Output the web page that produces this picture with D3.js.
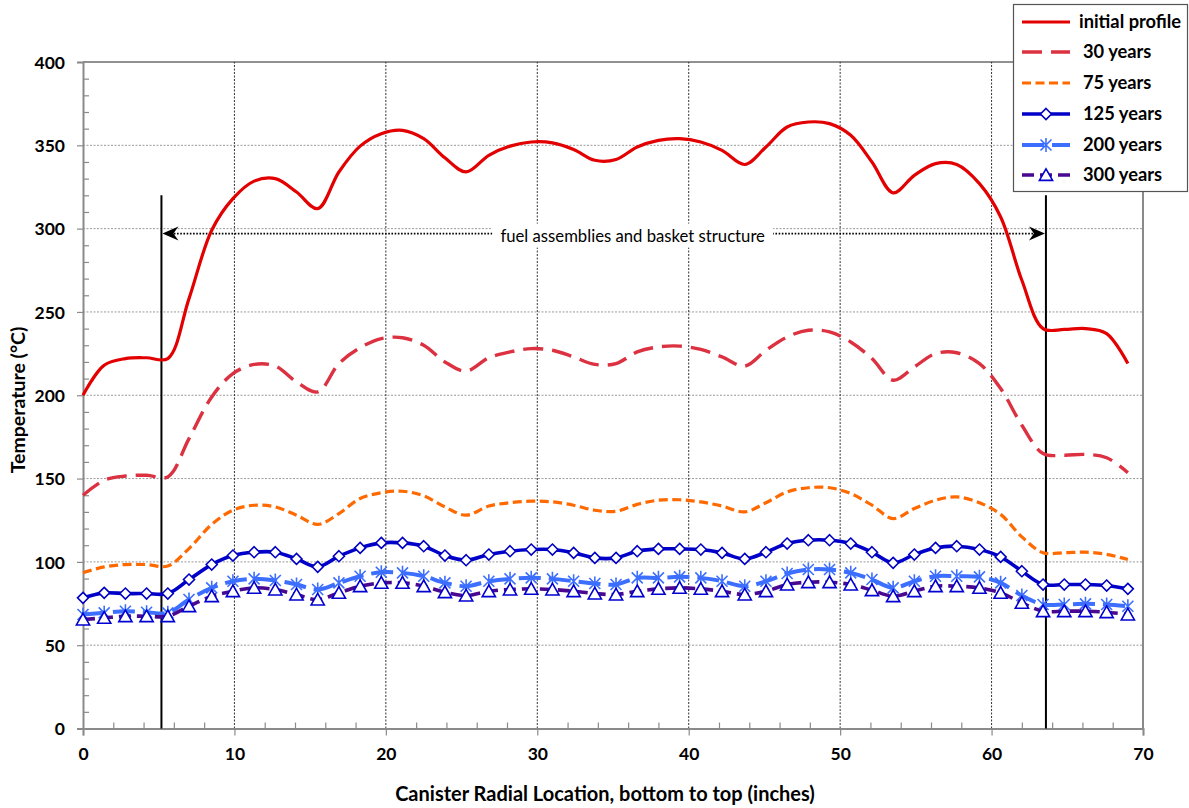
<!DOCTYPE html>
<html>
<head>
<meta charset="utf-8">
<script src="https://cdn.jsdelivr.net/npm/d3@7"></script>
<style>
  html, body { margin: 0; padding: 0; background: #fff; }
  svg { display: block; }
  text { font-family: Lato, "Open Sans", "Noto Sans", sans-serif; }
</style>
</head>
<body>
<svg id="chart" width="1189" height="808"></svg>
<script>
// ---------- DATA ----------
const xPositions = [0,1.4,2.8,4.2,5.6,7.0,8.5,9.9,11.3,12.7,14.1,15.5,16.9,18.3,19.7,21.1,22.5,23.9,25.3,26.8,
  28.2,29.6,31.0,32.4,33.8,35.2,36.6,38.0,39.4,40.8,42.2,43.7,45.1,46.5,47.9,49.3,50.7,52.1,53.5,54.9,
  56.3,57.7,59.2,60.6,62.0,63.4,64.8,66.2,67.6,69.0];

const initialProfile = [200,218,222,222.5,222,258,299,318,328.5,330,322,312,334,349.5,357,359,354,342.5,334,344,
  349.5,352,351.5,347.5,341,341.5,349,353,354,352,347,338.5,349,361,364,363,356,340,321.5,332,
  339,338.5,327,307,269,240,239.5,240,237,219];
const years30 = [140,149,151.5,152,151,174,199,213,218.5,217.5,208,202,219,228.5,234,234.5,230,220,214.5,222.5,
  226,228,227,223,218.5,219,226,229,229.5,227.5,223,217.5,227,235,239,238,232,222,209,217,
  225,225.5,219,204,182,165,164,164.5,162.5,153.5];
const years75 = [93.5,97,98.4,98.4,97.5,108,122.5,131,134,133,128,122.5,129,138,141.5,142.4,139.6,133,128,133.5,
  135.5,136.4,136,134,131,130.4,134.5,137,137.3,136,133.5,130,135.5,142,144.5,144.5,141,134,126,132,
  137,139,135.5,128.5,115,105.5,105.5,105.8,104.5,101.4];
const years125 = [78.4,81.4,81,81,81,89.4,98.4,103.8,105.8,105.8,101.8,97,103.4,108.4,111.4,111.4,109.4,103.8,101,104.4,
  106.4,107.4,107.4,105.4,102.4,102.4,106.4,107.8,107.8,107.4,105.4,101.8,105.8,111,113,113,111,105.8,99.4,104.4,
  108.4,109.4,107.4,103,94.4,86.4,86.4,86.4,85.8,83.8];
const years200 = [68.4,69.4,70.4,69.8,69.4,77.4,84.4,88.4,89.8,88.8,86.4,83.4,87.4,91.4,93.8,93.4,91.4,87.4,85.4,88.4,
  89.8,90.4,89.8,88.4,87,86.4,90.4,90.4,91,90.4,88.4,85.4,88.4,93,95.4,95.4,93.4,89.4,84.4,88.4,
  91.4,91.4,91,87.4,79.8,74.4,74.4,74.8,74.4,73.4];
const years300 = [65.4,66.4,67.4,67.4,67.4,73.4,79.4,82.4,84.4,83.4,80.4,77.4,81.4,85.4,87.4,87.4,85.4,81.8,79.8,82.4,
  83.4,83.8,83.4,82.4,81,80.4,82.4,83.8,84.4,83.8,82.4,80.4,82.4,86.4,87.8,87.8,86.4,83,79.4,82.4,
  85.4,85.4,84.4,81.4,75.4,70.4,70.4,70.4,69.8,68.4];

const seriesNames = ["initial profile","30 years","75 years","125 years","200 years","300 years"];
const xTicks = [0,10,20,30,40,50,60,70];
const yTicks = [0,50,100,150,200,250,300,350,400];
const xTitle = "Canister Radial Location, bottom to top (inches)";
const yTitle = "Temperature (°C)";
const annotationText = "fuel assemblies and basket structure";
const fuelStart = 5.18, fuelEnd = 63.59, fuelTop = 320, arrowLevel = 297, annotationCenter = 36.3;

// ---------- STYLES ----------
const styles = [
  {data: initialProfile, color: "#e30000", width: 3.2, dash: null, marker: null},
  {data: years30, color: "#dc3140", width: 3.4, dash: "20,9", marker: null},
  {data: years75, color: "#ff6a00", width: 3.2, dash: "9,4.5", marker: null},
  {data: years125, color: "#0000c8", width: 3.6, dash: null, marker: "diamond"},
  {data: years200, color: "#3c6eff", width: 4, dash: "22,8", marker: "star"},
  {data: years300, color: "#4a0890", width: 3.6, dash: "12,6", marker: "triangle"}
];
const markerPaths = {
  diamond: "M0,-5.5L5.5,0L0,5.5L-5.5,0Z",
  star: "M-5.5,-5.5L5.5,5.5M-5.5,5.5L5.5,-5.5M0,-7L0,7",
  triangle: "M0,-6.2L6.6,5.4L-6.6,5.4Z"
};
const markerStroke = {diamond: "#0000c0", star: "#3c6eff", triangle: "#0000d0"};

// ---------- SCALES ----------
const svg = d3.select("#chart");
const x = d3.scaleLinear().domain([0, 70]).range([83, 1143]);
const y = d3.scaleLinear().domain([0, 400]).range([728.5, 62]);

// gridlines
const grid = svg.append("g");
grid.selectAll("line.h").data(yTicks.filter(v => v > 0 && v < 400)).join("line")
  .attr("x1", x(0)).attr("x2", x(70)).attr("y1", d => y(d)).attr("y2", d => y(d))
  .attr("stroke", "#9a9a9a").attr("stroke-width", 1).attr("stroke-dasharray", "2,1.5");
grid.selectAll("line.v").data(xTicks.filter(v => v > 0 && v < 70)).join("line")
  .attr("x1", d => x(d)).attr("x2", d => x(d)).attr("y1", y(0)).attr("y2", y(400))
  .attr("stroke", "#333").attr("stroke-width", 1).attr("stroke-dasharray", "2,1.5");
// top and right borders
svg.append("line").attr("x1", x(0)).attr("x2", x(70)).attr("y1", y(400)).attr("y2", y(400))
  .attr("stroke", "#222").attr("stroke-width", 1.2);
svg.append("line").attr("x1", x(70)).attr("x2", x(70)).attr("y1", y(0)).attr("y2", y(400))
  .attr("stroke", "#8a8a8a").attr("stroke-width", 2);

// axes
const minorX = d3.range(0, 71, 2).filter(v => v % 10 !== 0);
const minorY = d3.range(0, 401, 10).filter(v => v % 50 !== 0);
const axisColor = "#8a8a8a";

const gxMinor = svg.append("g").attr("transform", `translate(0,${y(0)})`)
  .call(d3.axisBottom(x).tickValues(minorX).tickSize(-6).tickFormat(""));
const gx = svg.append("g").attr("transform", `translate(0,${y(0)})`)
  .call(d3.axisBottom(x).tickValues(xTicks).tickSize(7).tickPadding(12).tickFormat(d3.format("d")));
const gyMinor = svg.append("g").attr("transform", `translate(${x(0)},0)`)
  .call(d3.axisLeft(y).tickValues(minorY).tickSize(-6).tickFormat(""));
const gy = svg.append("g").attr("transform", `translate(${x(0)},0)`)
  .call(d3.axisLeft(y).tickValues(yTicks).tickSize(6).tickPadding(12).tickFormat(d3.format("d")));
[gxMinor, gx, gyMinor, gy].forEach(g => {
  g.selectAll(".domain").attr("stroke", axisColor).attr("stroke-width", 2);
  g.selectAll(".tick line").attr("stroke", axisColor).attr("stroke-width", 1.2);
  g.selectAll(".tick text").attr("fill", "#000").style("font-size", "17.5px").style("font-weight", "bold")
   .style("font-family", "Lato, 'Open Sans', sans-serif");
});
gxMinor.select(".domain").remove();
gyMinor.select(".domain").remove();
gy.selectAll(".tick text").attr("dy", "0.36em");

// axis titles
svg.append("text").attr("x", 605).attr("y", 801).attr("text-anchor", "middle")
  .style("font-size", "20px").style("font-weight", "bold").text(xTitle);
svg.append("text").attr("transform", "translate(25,400) rotate(-90)").attr("text-anchor", "middle")
  .style("font-size", "19.5px").style("font-weight", "bold").text(yTitle);

// ---------- ANNOTATION ----------
const ann = svg.append("g");
[fuelStart, fuelEnd].forEach(v => {
  ann.append("line").attr("x1", x(v)).attr("x2", x(v)).attr("y1", y(fuelTop)).attr("y2", y(0))
    .attr("stroke", "#000").attr("stroke-width", 2);
});
ann.append("line").attr("x1", x(fuelStart) + 6).attr("x2", x(fuelEnd) - 6)
  .attr("y1", y(arrowLevel)).attr("y2", y(arrowLevel))
  .attr("stroke", "#000").attr("stroke-width", 1.6).attr("stroke-dasharray", "1.6,1.6");
ann.append("path").attr("transform", `translate(${x(fuelStart) + 1},${y(arrowLevel)})`)
  .attr("d", "M0,0L16,-7L11,0L16,7Z").attr("fill", "#000");
ann.append("path").attr("transform", `translate(${x(fuelEnd) - 1},${y(arrowLevel)})`)
  .attr("d", "M0,0L-16,-7L-11,0L-16,7Z").attr("fill", "#000");
const annLabel = ann.append("text").attr("x", x(annotationCenter)).attr("y", y(arrowLevel) + 8)
  .attr("text-anchor", "middle").style("font-size", "16.7px").text(annotationText);
const bb = annLabel.node().getBBox();
ann.insert("rect", "text").attr("x", bb.x - 8).attr("y", bb.y - 2).attr("width", bb.width + 16)
  .attr("height", bb.height + 4).attr("fill", "#fff");

// ---------- SERIES ----------
const line = d3.line().x((d, i) => x(xPositions[i])).y(d => y(d)).curve(d3.curveCatmullRom.alpha(0.5));
const plot = svg.append("g");
styles.forEach(s => {
  const g = plot.append("g");
  g.append("path").attr("d", line(s.data)).attr("fill", "none").attr("stroke", s.color)
    .attr("stroke-width", s.width).attr("stroke-linejoin", "round")
    .attr("stroke-dasharray", s.dash);
  if (s.marker) {
    g.selectAll("path.m").data(s.data).join("path").attr("class", "m")
      .attr("transform", (d, i) => `translate(${x(xPositions[i])},${y(d)})`)
      .attr("d", markerPaths[s.marker])
      .attr("fill", s.marker === "star" ? "none" : "#fff")
      .attr("stroke", markerStroke[s.marker]).attr("stroke-width", 1.6);
  }
});

// ---------- LEGEND ----------
const lg = svg.append("g");
lg.append("rect").attr("x", 1013.5).attr("y", 4.5).attr("width", 174).attr("height", 187)
  .attr("fill", "#fff").attr("stroke", "#555").attr("stroke-width", 1.2);
const rowY = [22, 52, 83, 114, 145, 175];
styles.forEach((s, i) => {
  const ry = rowY[i];
  lg.append("line").attr("x1", 1022).attr("x2", 1070).attr("y1", ry).attr("y2", ry)
    .attr("stroke", s.color).attr("stroke-width", s.width).attr("stroke-dasharray", s.dash);
  if (s.marker) {
    lg.append("path").attr("transform", `translate(1046,${ry})`).attr("d", markerPaths[s.marker])
      .attr("fill", s.marker === "star" ? "none" : "#fff")
      .attr("stroke", markerStroke[s.marker]).attr("stroke-width", 1.6);
  }
  lg.append("text").attr("x", i === 0 ? 1079 : 1083).attr("y", ry).attr("dy", "0.35em")
    .style("font-size", "18.3px").style("font-weight", "bold").text(seriesNames[i]);
});
</script>
</body>
</html>
